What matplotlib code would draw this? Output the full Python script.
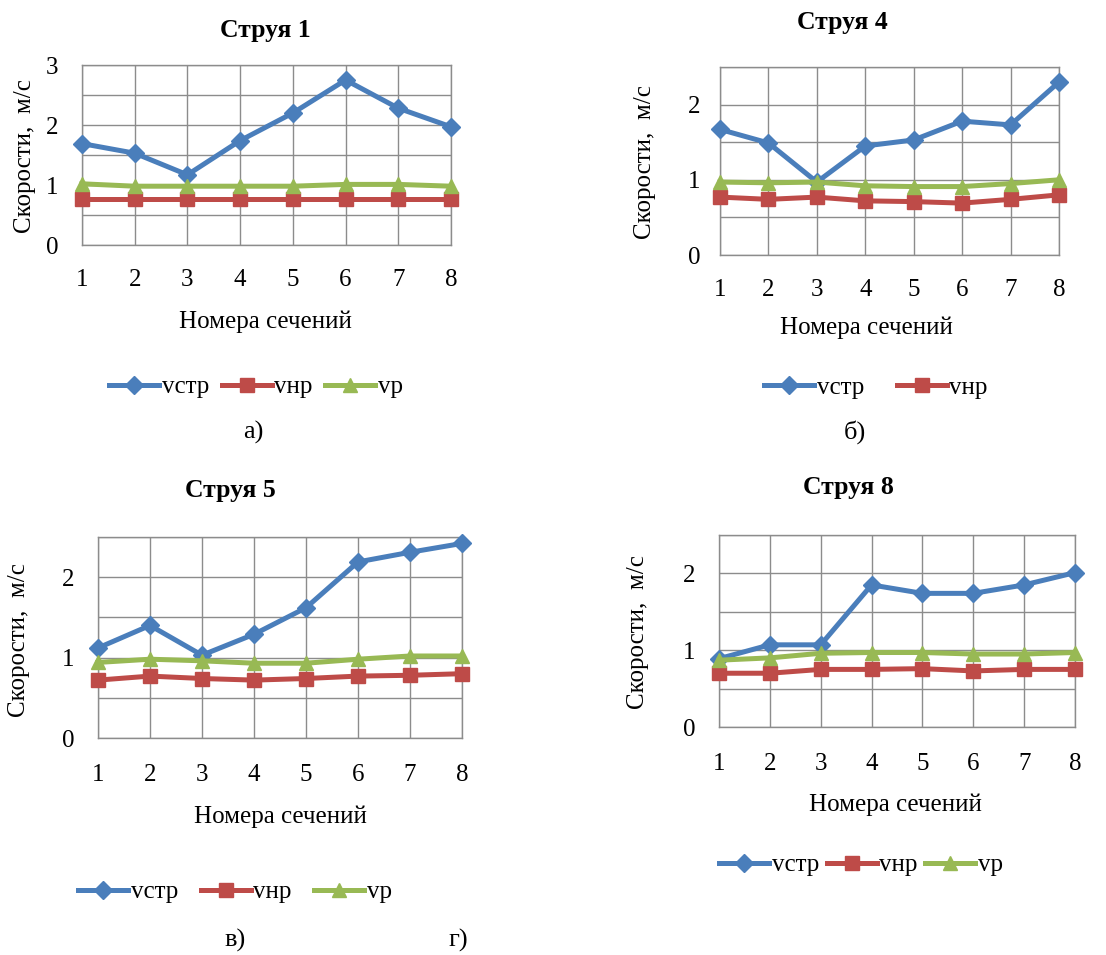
import matplotlib
matplotlib.use("Agg")
import matplotlib.pyplot as plt

plt.rcParams['font.family'] = ['Liberation Serif', 'DejaVu Serif']

W, H = 1106, 955
sections = [1, 2, 3, 4, 5, 6, 7, 8]
series_names = ["vстр", "vнр", "vр"]
colors = ["#4A7EBB", "#BE4B48", "#98B954"]
markers = ["D", "s", "^"]

# Струя 1
j1_vstr = [1.69, 1.53, 1.17, 1.74, 2.20, 2.75, 2.28, 1.97]
j1_vnr = [0.77, 0.77, 0.77, 0.77, 0.77, 0.77, 0.77, 0.77]
j1_vr = [1.02, 0.98, 0.98, 0.98, 0.98, 1.01, 1.01, 0.98]
# Струя 4
j4_vstr = [1.67, 1.49, 0.97, 1.45, 1.53, 1.78, 1.73, 2.30]
j4_vnr = [0.77, 0.74, 0.77, 0.72, 0.71, 0.69, 0.74, 0.80]
j4_vr = [0.97, 0.96, 0.97, 0.92, 0.91, 0.91, 0.95, 1.00]
# Струя 5
j5_vstr = [1.12, 1.40, 1.03, 1.29, 1.62, 2.19, 2.31, 2.42]
j5_vnr = [0.72, 0.77, 0.74, 0.72, 0.74, 0.77, 0.78, 0.80]
j5_vr = [0.94, 0.98, 0.96, 0.93, 0.93, 0.98, 1.02, 1.02]
# Струя 8
j8_vstr = [0.89, 1.07, 1.07, 1.85, 1.74, 1.74, 1.85, 2.01]
j8_vnr = [0.70, 0.70, 0.75, 0.75, 0.76, 0.73, 0.75, 0.75]
j8_vr = [0.87, 0.90, 0.96, 0.97, 0.97, 0.95, 0.95, 0.97]

titles = ["Струя 1", "Струя 4", "Струя 5", "Струя 8"]
captions = ["а)", "б)", "в)", "г)"]
xlabel = "Номера сечений"
ylabel = "Скорости,  м/с"

panels = [
    dict(data=[j1_vstr, j1_vnr, j1_vr], ymax=3.0, yticks=[0, 1, 2, 3], box=(82, 65, 451, 245),
         title=(265, 30), ylab=(25, 156), xlab=(265, 322), xpad=17, ypad=17,
         leg=(256, 387), nleg=3, colsp=0.5, cap=(253, 432)),
    dict(data=[j4_vstr, j4_vnr, j4_vr], ymax=2.5, yticks=[0, 1, 2], box=(720, 67, 1059, 255),
         title=(842, 22), ylab=(645, 162), xlab=(866, 328), xpad=17, ypad=14,
         leg=(876, 388), nleg=2, colsp=1.3, cap=(855, 432)),
    dict(data=[j5_vstr, j5_vnr, j5_vr], ymax=2.5, yticks=[0, 1, 2], box=(98, 537, 462, 738),
         title=(230, 490), ylab=(19, 640), xlab=(280, 817), xpad=19, ypad=17,
         leg=(235, 892), nleg=3, colsp=0.9, cap=(235, 940)),
    dict(data=[j8_vstr, j8_vnr, j8_vr], ymax=2.5, yticks=[0, 1, 2], box=(719, 535, 1075, 727),
         title=(848, 487), ylab=(638, 632), xlab=(895, 805), xpad=19, ypad=17,
         leg=(861, 865), nleg=3, colsp=0.3, cap=(458, 940)),
]

fig = plt.figure(figsize=(W / 100, H / 100), dpi=100)
grid_c = "#8C8C8C"
fs = 18

for i, p in enumerate(panels):
    x0, y0, x1, y1 = p["box"]
    ax = fig.add_axes([x0 / W, 1 - y1 / H, (x1 - x0) / W, (y1 - y0) / H])
    handles = []
    for k, vals in enumerate(p["data"]):
        ms = 9.5 if markers[k] == "D" else 10.5
        h, = ax.plot(sections, vals, color=colors[k], lw=3.6, marker=markers[k],
                     markersize=ms, markeredgecolor=colors[k], label=series_names[k],
                     clip_on=False, zorder=3 + k)
        handles.append(h)
    ax.set_xlim(1, 8)
    ax.set_ylim(0, p["ymax"])
    ax.set_xticks(sections)
    yt = [v * 0.5 for v in range(int(p["ymax"] / 0.5) + 1)]
    ax.set_yticks(yt)
    ax.set_yticklabels([str(int(v)) if v in p["yticks"] else "" for v in yt])
    ax.grid(True, color=grid_c, lw=1.0)
    ax.set_axisbelow(True)
    for s in ax.spines.values():
        s.set_color(grid_c)
        s.set_linewidth(1.0)
    ax.tick_params(axis="both", length=0, labelsize=fs, colors="black")
    ax.tick_params(axis="x", pad=p["xpad"])
    ax.tick_params(axis="y", pad=p["ypad"])

    fig.text(p["title"][0] / W, 1 - p["title"][1] / H, titles[i], ha="center", va="center",
             fontsize=18.5, fontweight="bold")
    fig.text(p["ylab"][0] / W, 1 - p["ylab"][1] / H, ylabel, rotation=90, ha="center",
             va="center", fontsize=fs)
    fig.text(p["xlab"][0] / W, 1 - p["xlab"][1] / H, xlabel, ha="center", va="center",
             fontsize=fs)
    fig.legend(handles=handles[:p["nleg"]], loc="center",
               bbox_to_anchor=(p["leg"][0] / W, 1 - p["leg"][1] / H), ncol=p["nleg"],
               frameon=False, fontsize=fs, handlelength=2.0, handletextpad=0.1,
               columnspacing=p["colsp"], borderpad=0)
    fig.text(p["cap"][0] / W, 1 - p["cap"][1] / H, captions[i], ha="center", va="center",
             fontsize=19)

fig.savefig("out.png", dpi=100, facecolor="white")
